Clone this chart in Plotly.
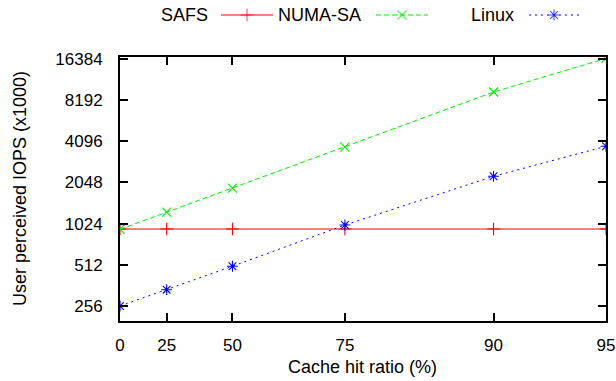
import plotly.graph_objects as go

# Cache hit ratio (%) and user-perceived IOPS (x1000) for each system
hit_ratio = [0, 25, 50, 75, 90, 95]
safs = [935, 935, 935, 935, 935, 935]
numa_sa = [930, 1240, 1860, 3710, 9370, 16500]
linux = [256, 337, 500, 1000, 2270, 3760]
y_ticks = [256, 512, 1024, 2048, 4096, 8192, 16384]

# x axis is spaced by 1/(1 - hit ratio) on a log scale
x_pos = [100.0 / (100.0 - h) for h in hit_ratio]

W, H = 616, 381
FONT = "Liberation Sans, Arial, Helvetica, sans-serif"
plot_left, plot_right, plot_top, plot_bottom = 120, 606, 57.3, 320.7

series = [
    dict(name="SAFS", y=safs, color="#ff0000", dash="solid", symbol="cross-thin", size=9),
    dict(name="NUMA-SA", y=numa_sa, color="#00ee00", dash="5px,3px", symbol="x-thin", size=9),
    dict(name="Linux", y=linux, color="#0000ff", dash="2px,4px", symbol="asterisk", size=9),
]

fig = go.Figure()
for s in series:
    fig.add_trace(go.Scatter(
        x=x_pos, y=s["y"], mode="lines+markers", name=s["name"],
        line=dict(color=s["color"], width=1, dash=s["dash"]),
        marker=dict(symbol=s["symbol"], size=s["size"],
                    line=dict(color=s["color"], width=1.1), color=s["color"]),
        showlegend=False, xaxis="x", yaxis="y",
    ))

# Key along the top: label text followed by a line sample with a marker
key_y = 15
key_layout = [(210, 221, 273), (363, 376, 428), (516, 529, 579)]
annotations = []
for s, (tx, x0, x1) in zip(series, key_layout):
    fig.add_trace(go.Scatter(
        x=[x0, (x0 + x1) / 2, x1], y=[key_y] * 3, mode="lines+markers",
        line=dict(color=s["color"], width=1, dash=s["dash"]),
        marker=dict(symbol=s["symbol"], size=[0, s["size"], 0],
                    line=dict(color=s["color"], width=1.1), color=s["color"]),
        showlegend=False, hoverinfo="skip", xaxis="x2", yaxis="y2",
    ))
    annotations.append(dict(
        x=tx / W, y=1 - key_y / H, xref="paper", yref="paper",
        text=s["name"], showarrow=False, xanchor="right", yanchor="middle",
        font=dict(family=FONT, size=18, color="black"),
    ))

annotations.append(dict(
    x=362 / W, y=1 - 367 / H, xref="paper", yref="paper",
    text="Cache hit ratio (%)", showarrow=False, xanchor="center", yanchor="middle",
    font=dict(family=FONT, size=18, color="black"),
))
annotations.append(dict(
    x=20 / W, y=1 - 189 / H, xref="paper", yref="paper", textangle=-90,
    text="User perceived IOPS (x1000)", showarrow=False, xanchor="center", yanchor="middle",
    font=dict(family=FONT, size=18, color="black"),
))

axis_common = dict(
    showline=True, linecolor="black", linewidth=2, mirror="allticks",
    ticks="inside", ticklen=8, tickwidth=1.5, tickcolor="black",
    showgrid=False, zeroline=False, automargin=False,
    tickfont=dict(family=FONT, size=17, color="black"),
)

fig.update_layout(
    width=W, height=H,
    margin=dict(l=0, r=0, t=0, b=0),
    paper_bgcolor="white", plot_bgcolor="rgba(0,0,0,0)",
    annotations=annotations,
    xaxis=dict(
        type="log", domain=[plot_left / W, plot_right / W],
        range=[0, 1.30103], tickvals=x_pos, ticktext=[str(h) for h in hit_ratio],
        ticklabelstandoff=8, anchor="y", **axis_common,
    ),
    yaxis=dict(
        type="log", domain=[1 - plot_bottom / H, 1 - plot_top / H],
        range=[2.30103, 4.2253], tickvals=y_ticks, ticktext=[str(v) for v in y_ticks],
        ticklabelstandoff=12, anchor="x", **axis_common,
    ),
    xaxis2=dict(domain=[0, 1], range=[0, W], visible=False, anchor="y2", fixedrange=True),
    yaxis2=dict(domain=[0, 1], range=[H, 0], visible=False, anchor="x2", fixedrange=True),
    showlegend=False,
)

fig.write_html("out.html")
